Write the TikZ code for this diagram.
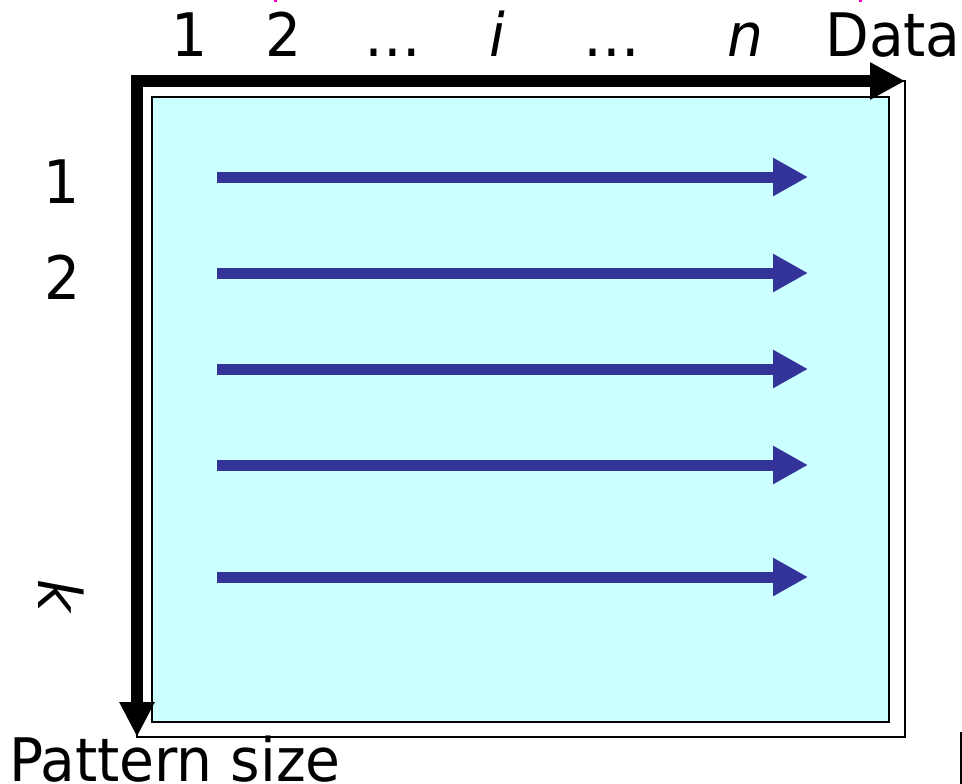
\documentclass[tikz,border=0pt]{standalone}
\usepackage{fontspec}
\setmainfont[FakeStretch=1.05]{DejaVu Sans Condensed}
\usetikzlibrary{arrows.meta}
\definecolor{cyanfill}{HTML}{CCFFFF}
\definecolor{arrowblue}{HTML}{333399}
\definecolor{tickmag}{HTML}{FF00CC}
\begin{document}
\begin{tikzpicture}[x=1pt,y=-1pt,
  lbl/.style={font=\fontsize{60}{60}\selectfont, inner sep=0pt, anchor=base},
  axisarrow/.style={line width=12pt, -{Triangle[length=35pt,width=35pt]}},
  flow/.style={draw=arrowblue, line width=11pt, -{Triangle[length=35pt,width=36pt]}},
]
\useasboundingbox (0,0) rectangle (962,784);
\fill[white] (0,0) rectangle (962,784);
% outer frame
\coordinate (otl) at (137,81);
\coordinate (obr) at (905,737);
\draw[line width=2.5pt] (otl) rectangle (obr);
% inner cyan panel
\coordinate (itl) at (152,97);
\coordinate (ibr) at (889,722);
\draw[fill=cyanfill, line width=2pt] (itl) rectangle (ibr);
% axes
\coordinate (hs) at (131,81);
\coordinate (he) at (905,81);
\coordinate (vs) at (137,75);
\coordinate (ve) at (137,737);
\draw[axisarrow] (hs) -- (he);
\draw[line width=12pt, -{Triangle[length=35pt,width=33pt]}] (vs) -- (ve);
% blue arrows
\foreach \y [count=\i] in {177,273,369,465,577} {
  \coordinate (s\i) at (217,\y);
  \coordinate (e\i) at (808,\y);
  \draw[flow] (s\i) -- (e\i);
}
% top labels
\node[lbl] (c1) at (190,57) {1};
\node[lbl] (c2) at (284,57) {2};
\node[lbl] (c3) at (393,57) {…};
\node[lbl] (c4) at (497,57) {\itshape i};
\node[lbl] (c5) at (612,57) {…};
\node[lbl] (c6) at (745,57) {\itshape n};
\node[lbl] (data) at (893,57) {Data};
% left labels
\node[lbl] (r1) at (62,203) {1};
\node[lbl] (r2) at (63,299) {2};
\node[font=\fontsize{60}{60}\selectfont\itshape, inner sep=0pt, rotate=-90] (rk) at (61,596) {k};
\node[lbl, anchor=base west] (ps) at (9,781) {Pattern size};
% small fragments at the edges
\fill[tickmag] (273.5,0) rectangle (276.5,2.5);
\fill[tickmag] (858.5,0) rectangle (861.5,2.5);
\coordinate (fa) at (961,732);
\coordinate (fb) at (961,784);
\draw[line width=2pt] (fa) -- (fb);
\end{tikzpicture}
\end{document}
